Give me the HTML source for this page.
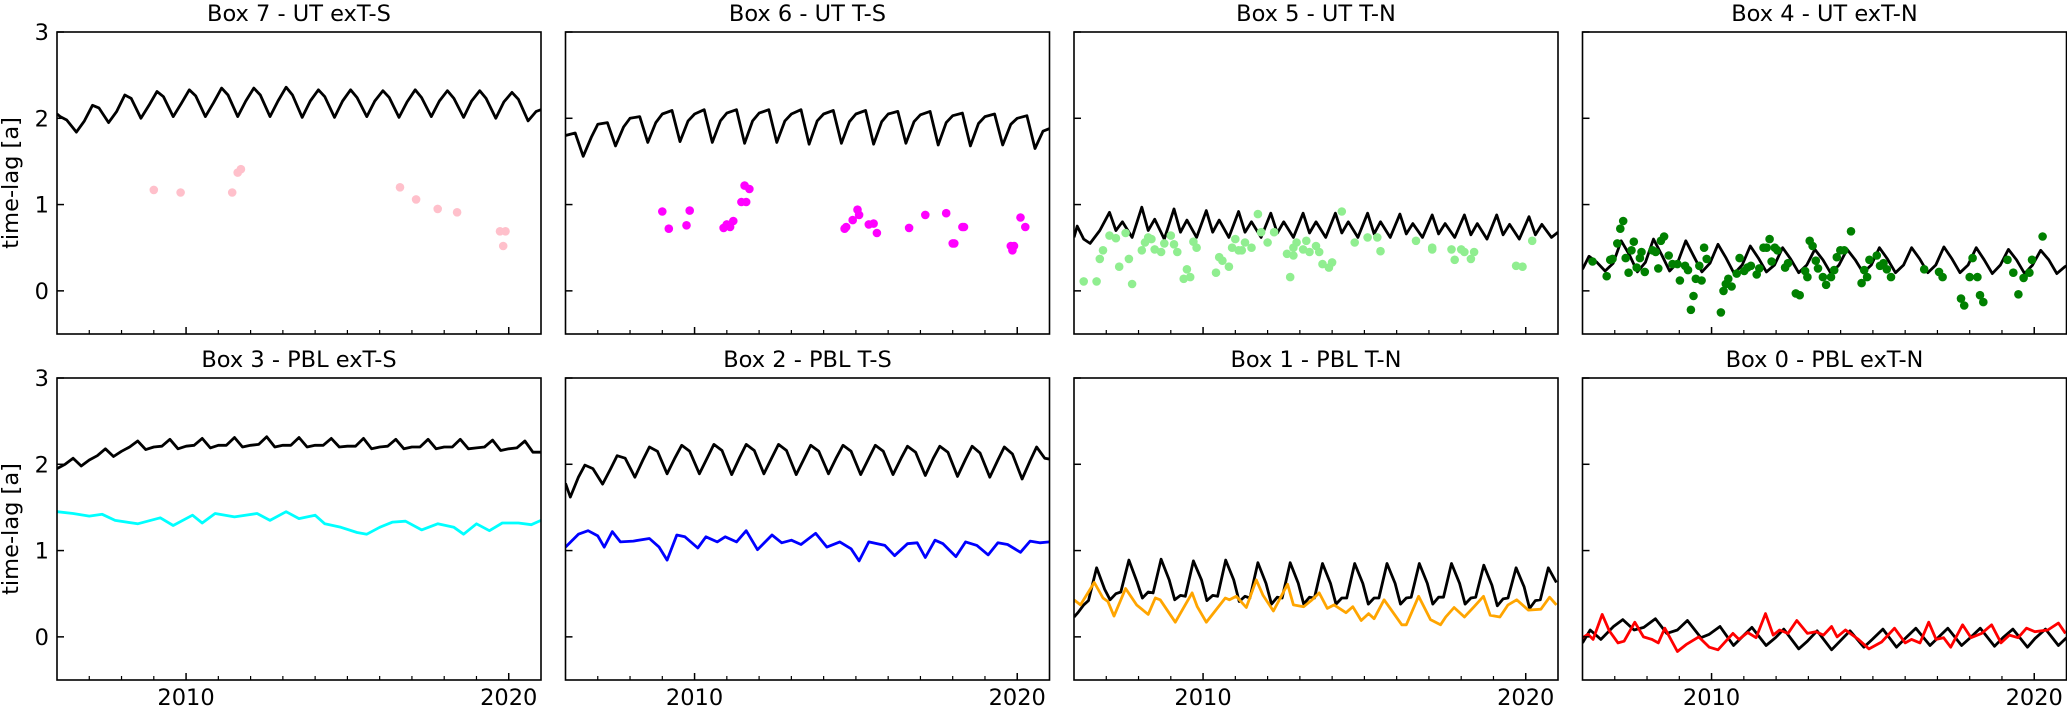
<!DOCTYPE html>
<html><head><meta charset="utf-8"><style>
html,body{margin:0;padding:0;background:#fff;}
svg{display:block;font-family:"DejaVu Sans","Liberation Sans",sans-serif;}
</style></head><body>
<svg id="fig" xmlns="http://www.w3.org/2000/svg" width="2067" height="707" viewBox="0 0 2067 707"></svg>
<script>
// ---- data ----
const tB7 = [2006.0,2006.1,2006.3,2006.6,2006.85,2007.1,2007.3,2007.6,2007.85,2008.1,2008.3,2008.6,2008.85,2009.1,2009.3,2009.6,2009.85,2010.1,2010.3,2010.6,2010.85,2011.1,2011.3,2011.6,2011.85,2012.1,2012.3,2012.6,2012.85,2013.1,2013.3,2013.6,2013.85,2014.1,2014.3,2014.6,2014.85,2015.1,2015.3,2015.6,2015.85,2016.1,2016.3,2016.6,2016.85,2017.1,2017.3,2017.6,2017.85,2018.1,2018.3,2018.6,2018.85,2019.1,2019.3,2019.6,2019.85,2020.1,2020.3,2020.6,2020.85,2021.0];
const vB7 = [2.05,2.02,1.98,1.84,1.97,2.15,2.12,1.95,2.08,2.27,2.23,2.0,2.15,2.31,2.25,2.02,2.17,2.33,2.26,2.02,2.18,2.35,2.27,2.02,2.2,2.35,2.27,2.02,2.2,2.36,2.27,2.01,2.2,2.33,2.25,2.01,2.2,2.33,2.24,2.02,2.2,2.32,2.24,2.01,2.19,2.33,2.24,2.02,2.2,2.32,2.23,2.01,2.2,2.32,2.23,2.0,2.19,2.3,2.22,1.97,2.08,2.1];
const tB6 = [2006.0,2006.3,2006.55,2006.8,2007.0,2007.3,2007.55,2007.8,2008.0,2008.3,2008.55,2008.8,2009.0,2009.3,2009.55,2009.8,2010.0,2010.3,2010.55,2010.8,2011.0,2011.3,2011.55,2011.8,2012.0,2012.3,2012.55,2012.8,2013.0,2013.3,2013.55,2013.8,2014.0,2014.3,2014.55,2014.8,2015.0,2015.3,2015.55,2015.8,2016.0,2016.3,2016.55,2016.8,2017.0,2017.3,2017.55,2017.8,2018.0,2018.3,2018.55,2018.8,2019.0,2019.3,2019.55,2019.8,2020.0,2020.3,2020.55,2020.8,2021.0];
const vB6 = [1.8,1.83,1.56,1.78,1.93,1.95,1.68,1.9,2.0,2.02,1.72,1.95,2.05,2.09,1.73,1.97,2.05,2.1,1.72,1.97,2.06,2.1,1.71,1.97,2.06,2.1,1.72,1.97,2.05,2.1,1.7,1.97,2.05,2.09,1.71,1.96,2.05,2.09,1.7,1.96,2.05,2.08,1.71,1.96,2.04,2.08,1.69,1.95,2.03,2.06,1.68,1.94,2.02,2.05,1.69,1.93,2.0,2.03,1.65,1.85,1.88];
const tB5 = [2006.0,2006.1,2006.3,2006.5,2006.8,2007.1,2007.3,2007.5,2007.8,2008.1,2008.3,2008.5,2008.8,2009.1,2009.3,2009.5,2009.8,2010.1,2010.3,2010.5,2010.8,2011.1,2011.3,2011.5,2011.8,2012.1,2012.3,2012.5,2012.8,2013.1,2013.3,2013.5,2013.8,2014.1,2014.3,2014.5,2014.8,2015.1,2015.3,2015.5,2015.8,2016.1,2016.3,2016.5,2016.8,2017.1,2017.3,2017.5,2017.8,2018.1,2018.3,2018.5,2018.8,2019.1,2019.3,2019.5,2019.8,2020.1,2020.3,2020.5,2020.8,2021.0];
const vB5 = [0.62,0.75,0.6,0.55,0.7,0.91,0.7,0.8,0.62,0.97,0.7,0.83,0.6,0.95,0.68,0.82,0.62,0.93,0.68,0.82,0.62,0.92,0.68,0.8,0.62,0.9,0.67,0.8,0.62,0.9,0.67,0.8,0.62,0.9,0.67,0.8,0.62,0.9,0.66,0.8,0.62,0.89,0.66,0.78,0.62,0.88,0.66,0.78,0.62,0.88,0.65,0.78,0.6,0.88,0.65,0.77,0.6,0.86,0.65,0.77,0.62,0.68];
const tB4 = [2006.0,2006.2,2006.45,2006.7,2006.95,2007.2,2007.45,2007.7,2007.95,2008.2,2008.45,2008.7,2008.95,2009.2,2009.45,2009.7,2009.95,2010.2,2010.45,2010.7,2010.95,2011.2,2011.45,2011.7,2011.95,2012.2,2012.45,2012.7,2012.95,2013.2,2013.45,2013.7,2013.95,2014.2,2014.45,2014.7,2014.95,2015.2,2015.45,2015.7,2015.95,2016.2,2016.45,2016.7,2016.95,2017.2,2017.45,2017.7,2017.95,2018.2,2018.45,2018.7,2018.95,2019.2,2019.45,2019.7,2019.95,2020.2,2020.45,2020.7,2020.95,2021.0];
const vB4 = [0.25,0.4,0.33,0.23,0.32,0.58,0.42,0.22,0.33,0.6,0.42,0.23,0.33,0.58,0.4,0.22,0.32,0.54,0.38,0.2,0.3,0.52,0.38,0.22,0.3,0.5,0.37,0.21,0.3,0.48,0.36,0.2,0.3,0.48,0.36,0.21,0.3,0.5,0.37,0.21,0.3,0.5,0.37,0.21,0.3,0.51,0.37,0.21,0.3,0.5,0.36,0.2,0.3,0.48,0.36,0.2,0.3,0.47,0.36,0.2,0.28,0.29];
const tB3 = [2006.0,2006.25,2006.5,2006.75,2007.0,2007.25,2007.5,2007.75,2008.0,2008.25,2008.5,2008.75,2009.0,2009.25,2009.5,2009.75,2010.0,2010.25,2010.5,2010.75,2011.0,2011.25,2011.5,2011.75,2012.0,2012.25,2012.5,2012.75,2013.0,2013.25,2013.5,2013.75,2014.0,2014.25,2014.5,2014.75,2015.0,2015.25,2015.5,2015.75,2016.0,2016.25,2016.5,2016.75,2017.0,2017.25,2017.5,2017.75,2018.0,2018.25,2018.5,2018.75,2019.0,2019.25,2019.5,2019.75,2020.0,2020.25,2020.5,2020.75,2021.0];
const vB3 = [1.95,2.0,2.07,1.98,2.05,2.1,2.18,2.09,2.15,2.2,2.27,2.17,2.2,2.21,2.29,2.18,2.21,2.22,2.3,2.19,2.22,2.22,2.31,2.2,2.22,2.23,2.32,2.2,2.22,2.22,2.31,2.2,2.22,2.22,2.3,2.2,2.21,2.21,2.3,2.18,2.2,2.21,2.29,2.18,2.2,2.2,2.29,2.18,2.2,2.2,2.29,2.18,2.19,2.2,2.28,2.16,2.18,2.19,2.27,2.14,2.14];
const tC3 = [2006.0,2006.5,2007.0,2007.4,2007.8,2008.5,2009.2,2009.6,2010.2,2010.5,2010.9,2011.5,2012.2,2012.6,2013.1,2013.5,2014.0,2014.3,2014.8,2015.3,2015.6,2016.0,2016.4,2016.8,2017.3,2017.8,2018.3,2018.6,2019.0,2019.4,2019.8,2020.3,2020.7,2021.0];
const vC3 = [1.45,1.43,1.4,1.42,1.35,1.31,1.38,1.29,1.41,1.32,1.43,1.39,1.43,1.35,1.45,1.37,1.41,1.31,1.27,1.21,1.19,1.27,1.33,1.34,1.24,1.31,1.27,1.19,1.31,1.23,1.32,1.32,1.3,1.35];
const tB2 = [2006.0,2006.15,2006.4,2006.6,2006.85,2007.15,2007.4,2007.6,2007.85,2008.15,2008.4,2008.6,2008.85,2009.15,2009.4,2009.6,2009.85,2010.15,2010.4,2010.6,2010.85,2011.15,2011.4,2011.6,2011.85,2012.15,2012.4,2012.6,2012.85,2013.15,2013.4,2013.6,2013.85,2014.15,2014.4,2014.6,2014.85,2015.15,2015.4,2015.6,2015.85,2016.15,2016.4,2016.6,2016.85,2017.15,2017.4,2017.6,2017.85,2018.15,2018.4,2018.6,2018.85,2019.15,2019.4,2019.6,2019.85,2020.15,2020.4,2020.6,2020.85,2021.0];
const vB2 = [1.78,1.62,1.85,1.99,1.95,1.77,1.95,2.1,2.07,1.85,2.05,2.2,2.15,1.89,2.08,2.22,2.15,1.89,2.08,2.23,2.16,1.88,2.08,2.23,2.16,1.89,2.08,2.23,2.16,1.88,2.07,2.22,2.15,1.89,2.08,2.22,2.15,1.88,2.07,2.22,2.15,1.88,2.07,2.21,2.14,1.87,2.07,2.21,2.14,1.86,2.06,2.21,2.13,1.85,2.05,2.2,2.12,1.83,2.04,2.2,2.07,2.06];
const tC2 = [2006.0,2006.4,2006.7,2007.0,2007.2,2007.45,2007.7,2008.1,2008.6,2008.9,2009.15,2009.45,2009.7,2010.1,2010.35,2010.7,2010.95,2011.3,2011.6,2011.95,2012.4,2012.7,2013.0,2013.3,2013.75,2014.1,2014.5,2014.85,2015.1,2015.4,2015.9,2016.2,2016.6,2016.9,2017.15,2017.45,2017.7,2018.1,2018.4,2018.75,2019.1,2019.4,2019.7,2020.1,2020.4,2020.7,2021.0];
const vC2 = [1.04,1.19,1.23,1.17,1.04,1.22,1.1,1.11,1.14,1.04,0.89,1.18,1.16,1.03,1.16,1.1,1.16,1.1,1.23,1.01,1.18,1.09,1.12,1.07,1.2,1.04,1.1,1.02,0.88,1.1,1.06,0.94,1.08,1.09,0.92,1.12,1.08,0.93,1.1,1.06,0.95,1.09,1.07,0.98,1.11,1.09,1.1];
const tB1 = [2006.0,2006.12,2006.3,2006.45,2006.7,2006.95,2007.12,2007.3,2007.45,2007.7,2007.95,2008.12,2008.3,2008.45,2008.7,2008.95,2009.12,2009.3,2009.45,2009.7,2009.95,2010.12,2010.3,2010.45,2010.7,2010.95,2011.12,2011.3,2011.45,2011.7,2011.95,2012.12,2012.3,2012.45,2012.7,2012.95,2013.12,2013.3,2013.45,2013.7,2013.95,2014.12,2014.3,2014.45,2014.7,2014.95,2015.12,2015.3,2015.45,2015.7,2015.95,2016.12,2016.3,2016.45,2016.7,2016.95,2017.12,2017.3,2017.45,2017.7,2017.95,2018.12,2018.3,2018.45,2018.7,2018.95,2019.12,2019.3,2019.45,2019.7,2019.95,2020.12,2020.3,2020.45,2020.7,2020.95];
const vB1 = [0.23,0.28,0.37,0.42,0.8,0.55,0.43,0.5,0.52,0.89,0.64,0.45,0.52,0.51,0.9,0.66,0.43,0.48,0.47,0.88,0.66,0.42,0.48,0.47,0.89,0.66,0.41,0.47,0.45,0.86,0.62,0.38,0.46,0.45,0.86,0.62,0.38,0.46,0.45,0.85,0.62,0.38,0.45,0.45,0.85,0.62,0.38,0.45,0.45,0.85,0.62,0.38,0.45,0.46,0.85,0.62,0.38,0.46,0.46,0.85,0.62,0.38,0.45,0.46,0.83,0.6,0.36,0.44,0.45,0.8,0.58,0.33,0.42,0.43,0.8,0.63];
const tC1 = [2006.0,2006.2,2006.63,2006.9,2007.05,2007.24,2007.6,2007.94,2008.3,2008.52,2008.67,2009.14,2009.66,2009.82,2010.1,2010.69,2010.82,2011.03,2011.34,2011.65,2011.86,2012.18,2012.62,2012.8,2013.12,2013.38,2013.6,2013.85,2014.06,2014.43,2014.64,2014.9,2015.13,2015.3,2015.61,2016.16,2016.3,2016.68,2017.05,2017.36,2017.52,2017.78,2018.1,2018.4,2018.69,2018.9,2019.2,2019.45,2019.72,2020.08,2020.47,2020.74,2020.95];
const vC1 = [0.43,0.37,0.63,0.45,0.41,0.24,0.56,0.37,0.26,0.45,0.43,0.17,0.51,0.35,0.17,0.45,0.43,0.47,0.34,0.66,0.48,0.3,0.61,0.37,0.35,0.43,0.51,0.33,0.37,0.28,0.35,0.19,0.27,0.21,0.43,0.14,0.14,0.47,0.2,0.14,0.23,0.34,0.23,0.35,0.47,0.25,0.23,0.37,0.43,0.31,0.32,0.46,0.37];
const tB0 = [2006.0,2006.24,2006.57,2006.96,2007.25,2007.6,2007.9,2008.26,2008.61,2008.94,2009.25,2009.67,2009.93,2010.26,2010.68,2010.92,2011.25,2011.69,2011.98,2012.24,2012.7,2012.97,2013.27,2013.72,2013.98,2014.29,2014.72,2014.98,2015.31,2015.73,2015.97,2016.33,2016.77,2016.99,2017.32,2017.75,2018.02,2018.33,2018.77,2019.03,2019.34,2019.79,2020.02,2020.35,2020.75,2021.0];
const vB0 = [-0.07,0.08,-0.03,0.12,0.2,0.08,0.11,0.21,0.04,0.08,0.19,-0.01,0.03,0.12,-0.1,-0.01,0.11,-0.1,-0.01,0.09,-0.14,-0.05,0.07,-0.15,-0.05,0.07,-0.12,-0.03,0.09,-0.12,-0.03,0.1,-0.1,-0.02,0.1,-0.1,-0.01,0.1,-0.11,-0.01,0.09,-0.12,-0.02,0.09,-0.1,-0.01];
const tC0 = [2006.0,2006.17,2006.33,2006.61,2006.83,2007.1,2007.29,2007.62,2007.89,2008.15,2008.35,2008.55,2008.94,2009.21,2009.6,2009.93,2010.2,2010.66,2010.85,2011.12,2011.38,2011.67,2011.91,2012.11,2012.37,2012.64,2012.97,2013.23,2013.47,2013.72,2013.89,2014.15,2014.55,2014.88,2015.27,2015.67,2016.0,2016.2,2016.46,2016.73,2016.96,2017.19,2017.41,2017.78,2018.04,2018.37,2018.68,2018.97,2019.23,2019.5,2019.76,2020.02,2020.42,2020.75,2020.97];
const vC0 = [-0.01,0.03,-0.03,0.26,0.07,-0.07,-0.05,0.17,0.0,-0.03,-0.07,0.1,-0.17,-0.09,0.0,-0.12,-0.15,0.04,-0.03,0.05,-0.01,0.27,0.02,0.08,0.04,0.19,0.04,0.06,0.02,0.12,0.0,0.08,-0.03,-0.14,-0.06,0.1,-0.07,-0.03,-0.07,0.17,-0.03,-0.01,-0.12,0.14,-0.01,0.04,0.14,-0.07,0.02,-0.01,0.1,0.06,0.08,0.16,0.04];
// scatter observations
const sx7 = [2009.0,2009.83,2011.43,2011.6,2011.7,2016.63,2017.13,2017.8,2018.4,2019.73,2019.9,2019.83];
const sy7 = [1.17,1.14,1.14,1.37,1.41,1.2,1.06,0.95,0.91,0.69,0.69,0.52];
const sx6 = [2009.0,2009.2,2009.75,2009.85,2010.9,2011.0,2011.1,2011.2,2011.45,2011.6,2011.55,2011.7,2014.65,2014.7,2014.9,2015.05,2015.1,2015.4,2015.55,2015.65,2016.65,2017.15,2017.8,2018.0,2018.05,2018.3,2018.35,2019.8,2019.85,2019.9,2020.1,2020.25];
const sy6 = [0.92,0.72,0.76,0.93,0.73,0.77,0.74,0.81,1.03,1.03,1.22,1.18,0.72,0.74,0.82,0.94,0.88,0.77,0.78,0.67,0.73,0.88,0.9,0.55,0.55,0.74,0.74,0.52,0.47,0.52,0.85,0.74];
const sx5 = [2006.3,2006.7,2006.8,2006.9,2007.1,2007.3,2007.4,2007.6,2007.7,2007.8,2008.1,2008.2,2008.3,2008.4,2008.5,2008.7,2008.8,2009.0,2009.1,2009.2,2009.4,2009.5,2009.6,2009.7,2009.8,2010.4,2010.5,2010.6,2010.8,2010.9,2011.0,2011.1,2011.2,2011.3,2011.5,2011.7,2011.8,2012.0,2012.2,2012.6,2012.7,2012.8,2012.8,2012.9,2013.1,2013.2,2013.3,2013.5,2013.6,2013.7,2013.9,2014.0,2014.3,2014.7,2015.1,2015.5,2015.4,2016.6,2017.1,2017.1,2017.7,2017.8,2018.0,2018.1,2018.3,2018.4,2019.7,2019.9,2020.2];
const sy5 = [0.11,0.11,0.37,0.47,0.64,0.61,0.28,0.67,0.37,0.08,0.47,0.56,0.62,0.6,0.48,0.45,0.55,0.64,0.54,0.45,0.14,0.25,0.16,0.57,0.5,0.21,0.39,0.35,0.28,0.5,0.6,0.47,0.47,0.56,0.5,0.89,0.68,0.56,0.68,0.43,0.16,0.41,0.5,0.56,0.48,0.58,0.45,0.52,0.45,0.31,0.27,0.33,0.92,0.56,0.62,0.46,0.62,0.58,0.48,0.5,0.48,0.36,0.48,0.45,0.37,0.45,0.29,0.28,0.58];
const sx4 = [2006.31,2006.75,2006.86,2006.93,2007.08,2007.17,2007.26,2007.34,2007.43,2007.52,2007.59,2007.68,2007.78,2007.83,2007.93,2008.17,2008.27,2008.35,2008.43,2008.53,2008.67,2008.79,2008.94,2009.02,2009.18,2009.27,2009.36,2009.44,2009.51,2009.62,2009.69,2009.77,2009.85,2010.29,2010.37,2010.44,2010.52,2010.62,2010.78,2010.87,2011.01,2011.11,2011.22,2011.4,2011.48,2011.61,2011.71,2011.8,2011.86,2011.96,2012.04,2012.28,2012.37,2012.61,2012.73,2012.9,2012.97,2013.04,2013.13,2013.23,2013.3,2013.45,2013.55,2013.7,2013.8,2013.88,2013.99,2014.11,2014.32,2014.65,2014.73,2014.82,2014.89,2015.12,2015.22,2015.33,2015.43,2015.56,2016.59,2017.05,2017.16,2017.73,2017.83,2018.0,2018.09,2018.24,2018.32,2018.42,2019.17,2019.35,2019.51,2019.67,2019.85,2019.93,2020.26];
const sy4 = [0.34,0.17,0.36,0.37,0.55,0.72,0.81,0.38,0.21,0.47,0.57,0.27,0.38,0.45,0.22,0.47,0.45,0.26,0.58,0.63,0.41,0.31,0.31,0.12,0.29,0.24,-0.22,-0.06,0.14,0.29,0.12,0.5,0.37,-0.25,0.0,0.08,0.14,0.05,0.2,0.38,0.23,0.27,0.29,0.19,0.26,0.5,0.5,0.6,0.34,0.5,0.47,0.27,0.32,-0.03,-0.05,0.23,0.16,0.58,0.52,0.35,0.26,0.16,0.07,0.16,0.24,0.39,0.47,0.47,0.69,0.09,0.24,0.16,0.36,0.41,0.29,0.32,0.25,0.16,0.25,0.22,0.16,-0.09,-0.17,0.16,0.38,0.16,-0.05,-0.13,0.36,0.21,-0.04,0.15,0.21,0.36,0.63];
const yTicks = [0,1,2,3];
const xMajor = [2010,2020];
const xMinor = [2007,2008,2009,2011,2012,2013,2014,2015,2016,2017,2018,2019];

const panels = [
 {title:"Box 7 - UT exT-S", col:0,row:0, lines:[[tB7,vB7,"#000"]], pts:[sx7,sy7,"#ffc0cb"]},
 {title:"Box 6 - UT T-S", col:1,row:0, lines:[[tB6,vB6,"#000"]], pts:[sx6,sy6,"#ff00ff"]},
 {title:"Box 5 - UT T-N", col:2,row:0, lines:[[tB5,vB5,"#000"]], pts:[sx5,sy5,"#90ee90"]},
 {title:"Box 4 - UT exT-N", col:3,row:0, lines:[[tB4,vB4,"#000"]], pts:[sx4,sy4,"#008000"]},
 {title:"Box 3 - PBL exT-S", col:0,row:1, lines:[[tB3,vB3,"#000"],[tC3,vC3,"#00ffff"]]},
 {title:"Box 2 - PBL T-S", col:1,row:1, lines:[[tB2,vB2,"#000"],[tC2,vC2,"#0000ff"]]},
 {title:"Box 1 - PBL T-N", col:2,row:1, lines:[[tB1,vB1,"#000"],[tC1,vC1,"#ffa500"]]},
 {title:"Box 0 - PBL exT-N", col:3,row:1, lines:[[tB0,vB0,"#000"],[tC0,vC0,"#ff0000"]]}
];

const NS="http://www.w3.org/2000/svg";
const svg=document.getElementById('fig');
const LEFTS=[57,565.5,1074,1582.5], TOPS=[32,378], W=484, H=302;
const X0=2006, X1=2021, Y0=-0.5, Y1=3;
const FS='22.5';
function mk(tag,attrs,parent){const e=document.createElementNS(NS,tag);for(const k in attrs)e.setAttribute(k,attrs[k]);(parent||svg).appendChild(e);return e;}
function xs(p,t){return LEFTS[p.col]+(t-X0)/(X1-X0)*W;}
function ys(p,v){return TOPS[p.row]+H-(v-Y0)/(Y1-Y0)*H;}

panels.forEach((p,i)=>{
  const g=mk('g',{});
  
  
  const L=LEFTS[p.col],T=TOPS[p.row];
  const clipId='c'+i;
  const cp=mk('clipPath',{id:clipId},g);mk('rect',{x:L,y:T,width:W,height:H},cp);
  const tt=mk('text',{x:L+W/2,y:T-11,'text-anchor':'middle','font-size':FS},g);
  tt.textContent=p.title;
  
  
  const plot=mk('g',{'clip-path':'url(#'+clipId+')'},g);
  const drawPts=()=>{ if(!p.pts) return;
    const [sx,sy,col]=p.pts;
    sx.forEach((t,k)=>{const c=mk('circle',{cx:xs(p,t).toFixed(1),cy:ys(p,sy[k]).toFixed(1),r:4.3,fill:col},plot);
      
      });
  };
  p.lines.forEach((ln,li)=>{
    const [tx,vy,col]=ln;
    const d=tx.map((t,k)=>(k?'L':'M')+xs(p,t).toFixed(1)+','+ys(p,vy[k]).toFixed(1)).join('');
    const path=mk('path',{d:d,fill:'none',stroke:col,'stroke-width':2.8,'stroke-linejoin':'round'},plot);
    
    
    if(li===0) drawPts();
  });
  yTicks.forEach(v=>{const y=ys(p,v);mk('line',{x1:L,x2:L+7,y1:y,y2:y,stroke:'#000','stroke-width':1.5},g);
    if(p.col===0){const tl=mk('text',{x:L-8,y:y+8,'text-anchor':'end','font-size':FS},g);tl.textContent=String(v);
      
      }});
  xMinor.forEach(t=>{const x=xs(p,t);mk('line',{x1:x,x2:x,y1:T+H,y2:T+H-4,stroke:'#000','stroke-width':1.2},g);});
  xMajor.forEach(t=>{const x=xs(p,t);mk('line',{x1:x,x2:x,y1:T+H,y2:T+H-7,stroke:'#000','stroke-width':1.5},g);
    if(p.row===1){const tl=mk('text',{x:x,y:T+H+25,'text-anchor':'middle','font-size':FS},g);tl.textContent=String(t);
      
      }});
  const fr=mk('rect',{x:L,y:T,width:W,height:H,fill:'none',stroke:'#000','stroke-width':1.6},g);
  
  
});
[0,1].forEach(r=>{
  const yc=TOPS[r]+H/2;
  const lab=mk('text',{x:0,y:0,transform:'translate(18,'+yc+') rotate(-90)','text-anchor':'middle','font-size':FS});
  lab.textContent='time-lag [a]';
  
  
});
</script>
</body></html>
